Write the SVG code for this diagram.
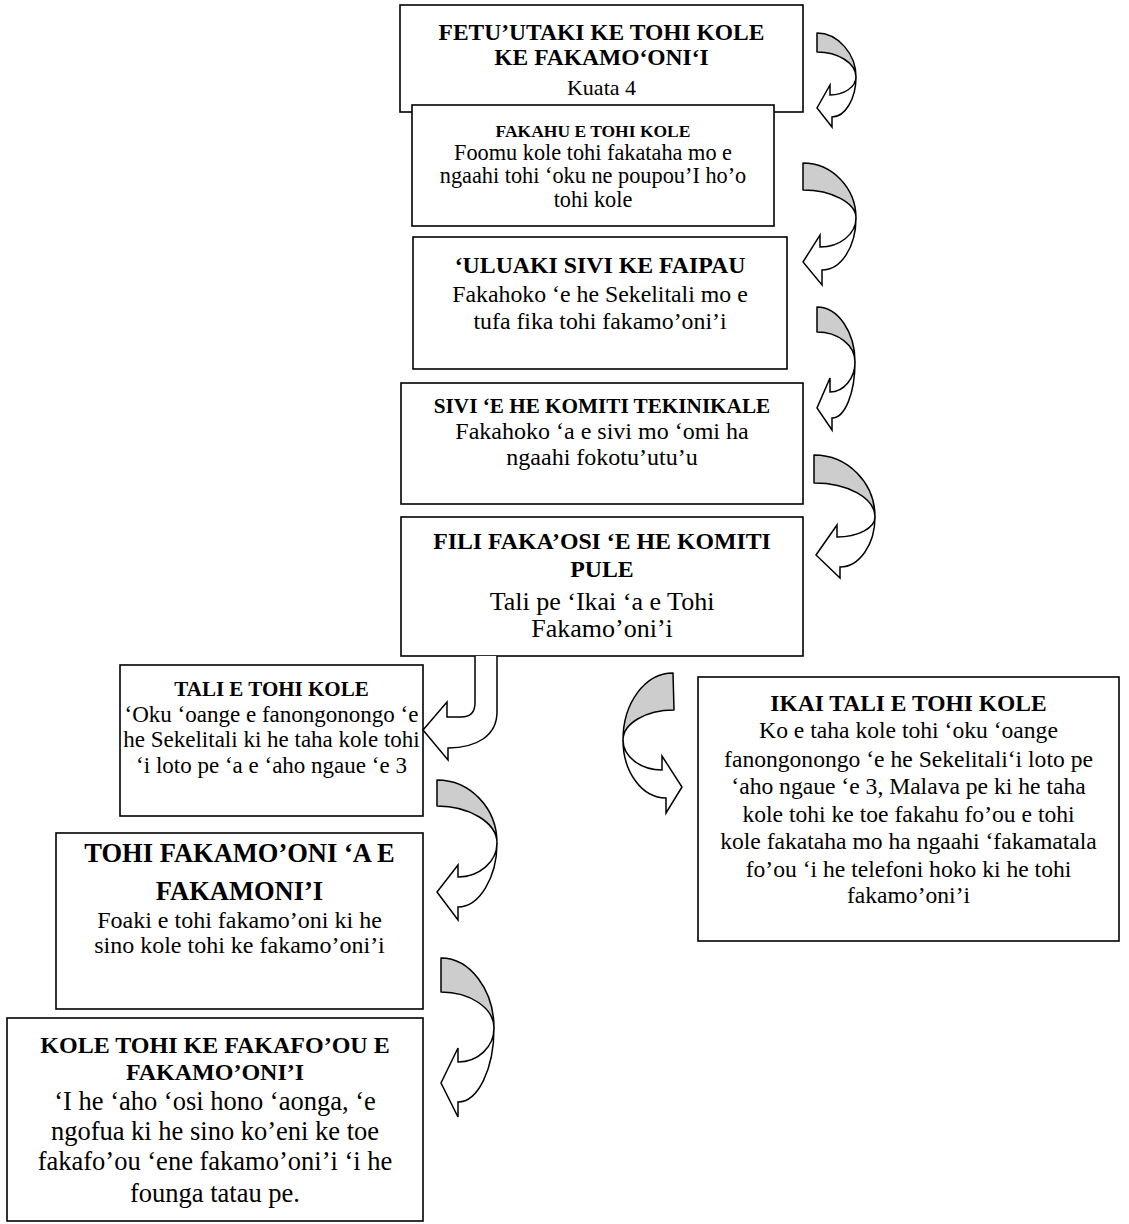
<svg xmlns="http://www.w3.org/2000/svg" width="1129" height="1224" viewBox="0 0 1129 1224">
<style>
.box{fill:#fff;stroke:#000;stroke-width:1.6}
.t{font-family:"Liberation Serif","Times New Roman",serif;fill:#000;text-anchor:middle}
.b{font-weight:bold}
.sh{fill:#cdcdcd;stroke:#000;stroke-width:1.5;stroke-linejoin:round}
.wh{fill:#fff;stroke:#000;stroke-width:1.5;stroke-linejoin:miter}
</style>
<rect width="1129" height="1224" fill="#fff"/>
<g id="n1">
<rect class="box" x="400" y="5" width="403" height="107"/>
<text class="t b" x="601.5" y="40" font-size="23.5">FETU’UTAKI KE TOHI KOLE</text>
<text class="t b" x="601.5" y="65" font-size="23.5">KE FAKAMO‘ONI‘I</text>
<text class="t" x="601.5" y="95" font-size="22">Kuata 4</text>
</g>
<g id="n2">
<rect class="box" x="412" y="105" width="362" height="121"/>
<text class="t b" x="593" y="137" font-size="17.5">FAKAHU E TOHI KOLE</text>
<text class="t" x="593" y="160" font-size="22.3">Foomu kole tohi fakataha mo e</text>
<text class="t" x="593" y="183" font-size="22.3">ngaahi tohi ‘oku ne poupou’I ho’o</text>
<text class="t" x="593" y="207" font-size="22.3">tohi kole</text>
</g>
<g id="n3">
<rect class="box" x="413" y="237" width="374" height="132"/>
<text class="t b" x="600" y="273" font-size="23.8">‘ULUAKI SIVI KE FAIPAU</text>
<text class="t" x="600" y="302" font-size="23.8">Fakahoko ‘e he Sekelitali mo e</text>
<text class="t" x="600" y="329" font-size="23.8">tufa fika tohi fakamo’oni’i</text>
</g>
<g id="n4">
<rect class="box" x="401" y="383" width="402" height="121"/>
<text class="t b" x="602" y="413" font-size="21.2">SIVI ‘E HE KOMITI TEKINIKALE</text>
<text class="t" x="602" y="439" font-size="24">Fakahoko ‘a e sivi mo ‘omi ha</text>
<text class="t" x="602" y="465" font-size="24">ngaahi fokotu’utu’u</text>
</g>
<g id="n5">
<rect class="box" x="401" y="517" width="402" height="139"/>
<text class="t b" x="602" y="549" font-size="23.8">FILI FAKA’OSI ‘E HE KOMITI</text>
<text class="t b" x="602" y="577" font-size="23.8">PULE</text>
<text class="t" x="602" y="610" font-size="26">Tali pe ‘Ikai ‘a e Tohi</text>
<text class="t" x="602" y="637" font-size="26">Fakamo’oni’i</text>
</g>
<g id="n6">
<rect class="box" x="120" y="665" width="303" height="151"/>
<text class="t b" x="271.5" y="696" font-size="21">TALI E TOHI KOLE</text>
<text class="t" x="271.5" y="722" font-size="23">‘Oku ‘oange e fanongonongo ‘e</text>
<text class="t" x="271.5" y="747" font-size="23">he Sekelitali ki he taha kole tohi</text>
<text class="t" x="271.5" y="773" font-size="23">‘i loto pe ‘a e ‘aho ngaue ‘e 3</text>
</g>
<g id="n7">
<rect class="box" x="56" y="833" width="367" height="176"/>
<text class="t b" x="239.5" y="862" font-size="26.5">TOHI FAKAMO’ONI ‘A E</text>
<text class="t b" x="239.5" y="900" font-size="26.5">FAKAMONI’I</text>
<text class="t" x="239.5" y="928" font-size="24">Foaki e tohi fakamo’oni ki he</text>
<text class="t" x="239.5" y="953" font-size="24">sino kole tohi ke fakamo’oni’i</text>
</g>
<g id="n8">
<rect class="box" x="7" y="1018" width="416" height="203"/>
<text class="t b" x="215" y="1053" font-size="24">KOLE TOHI KE FAKAFO’OU E</text>
<text class="t b" x="215" y="1080" font-size="24">FAKAMO’ONI’I</text>
<text class="t" x="215" y="1110" font-size="26.5">‘I he ‘aho ‘osi hono ‘aonga, ‘e</text>
<text class="t" x="215" y="1140" font-size="26.5">ngofua ki he sino ko’eni ke toe</text>
<text class="t" x="215" y="1170" font-size="26.5">fakafo’ou ‘ene fakamo’oni’i ‘i he</text>
<text class="t" x="215" y="1202" font-size="26.5">founga tatau pe.</text>
</g>
<g id="n9">
<rect class="box" x="698" y="677" width="421" height="264"/>
<text class="t b" x="908.5" y="711" font-size="23.5">IKAI TALI E TOHI KOLE</text>
<text class="t" x="908.5" y="738" font-size="23.6">Ko e taha kole tohi ‘oku ‘oange</text>
<text class="t" x="908.5" y="767" font-size="23.6">fanongonongo ‘e he Sekelitali‘i loto pe</text>
<text class="t" x="908.5" y="794" font-size="23.6">‘aho ngaue ‘e 3, Malava pe ki he taha</text>
<text class="t" x="908.5" y="822" font-size="23.6">kole tohi ke toe fakahu fo’ou e tohi</text>
<text class="t" x="908.5" y="849" font-size="23.6">kole fakataha mo ha ngaahi ‘fakamatala</text>
<text class="t" x="908.5" y="877" font-size="23.6">fo’ou ‘i he telefoni hoko ki he tohi</text>
<text class="t" x="908.5" y="903" font-size="23.6">fakamo’oni’i</text>
</g>
<g id="connectors">
<!-- A -->
<path class="wh" d="M856,77 C856,99 845,117 832,117 L832,127 L817,108 L830,85 L830,95 C844,95 856,87 856,77 Z"/>
<path class="sh" d="M817,33 C838,33 856,54 856,77 C856,63 838,52 817,52 Z"/>
<!-- B -->
<path class="wh" d="M856,218 C856,247 841,270 822,270 L822,285 L803,262 L820,235 L820,247 C840,247 856,234 856,218 Z"/>
<path class="sh" d="M803,163 C832,163 856,188 856,218 C856,203 832,190 803,190 Z"/>
<!-- C -->
<path class="wh" d="M855,362 C855,393 845,418 832,418 L832,430 L817,408 L830,378 L830,392 C844,392 855,378 855,362 Z"/>
<path class="sh" d="M817,307 C838,307 855,332 855,362 C855,345 838,332 817,332 Z"/>
<!-- D -->
<path class="wh" d="M875,517 C875,545 859,567 840,567 L840,578 L816,555 L837,525 L837,537 C858,537 875,528 875,517 Z"/>
<path class="sh" d="M814,455 C848,455 875,483 875,517 C875,498 848,483 814,483 Z"/>
<!-- E -->
<path class="wh" d="M475,656 L475,703 Q475,717 461,717 L447,717 L447,702 L423,730 L448,760 L448,748 C476,748 497,736 497,712 L497,656"/>
<!-- F -->
<path class="wh" d="M497,843 C497,878 479,907 458,907 L458,920 L437,892 L458,865 L458,877 C479,877 497,862 497,843 Z"/>
<path class="sh" d="M437,780 C470,780 497,808 497,843 C497,823 470,806 437,806 Z"/>
<!-- G -->
<path class="wh" d="M494,1028 C494,1069 478,1102 458,1102 L458,1117 L441,1083 L458,1048 L458,1062 C478,1062 494,1047 494,1028 Z"/>
<path class="sh" d="M441,958 C470,958 494,990 494,1028 C494,1008 470,992 441,992 Z"/>
<!-- H -->
<path class="wh" d="M623,740 C623,772 642,798 666,798 L666,813 L682,787 L662,756 L662,770 C641,770 623,757 623,740 Z"/>
<path class="sh" d="M673,673 C645,673 623,703 623,740 C623,724 645,710 674,710 Z"/>
</g>
</svg>
